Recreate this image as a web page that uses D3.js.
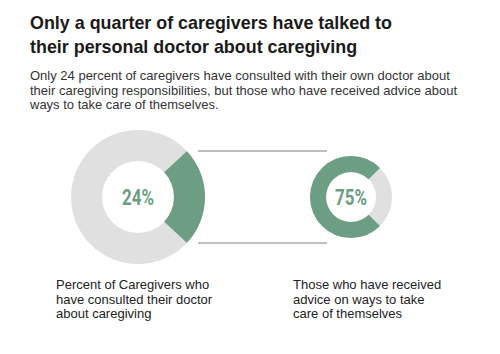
<!DOCTYPE html>
<html>
<head>
  <meta charset="utf-8">
  <style>
    html, body { margin: 0; padding: 0; background: #fff; }
    svg { display: block; font-family: "Liberation Sans", Arial, sans-serif; }
  </style>
</head>
<body>
  <svg id="chart" width="500" height="354"></svg>

  <script src="https://d3js.org/d3.v7.min.js"></script>
  <script>
    // data
    const titleLines = ["Only a quarter of caregivers have talked to",
                        "their personal doctor about caregiving"];
    const subtitleLines = ["Only 24 percent of caregivers have consulted with their own doctor about",
                           "their caregiving responsibilities, but those who have received advice about",
                           "ways to take care of themselves."];
    const metricNames = ["consulted", "advice"];
    const metricValues = [24, 75];
    const metricLabels = [
      ["Percent of Caregivers who", "have consulted their doctor", "about caregiving"],
      ["Those who have received", "advice on ways to take", "care of themselves"]
    ];

    const green = "#6b9e82";
    const grey = "#e0e0e0";

    const svg = d3.select("#chart");

    // title
    svg.append("g").selectAll("text")
      .data(titleLines)
      .join("text")
      .attr("x", 30)
      .attr("y", (d, i) => 29 + i * 24)
      .attr("font-size", 17.9)
      .attr("font-weight", "bold")
      .attr("fill", "#1a1a1a")
      .text(d => d);

    // subtitle
    svg.append("g").selectAll("text")
      .data(subtitleLines)
      .join("text")
      .attr("x", 30)
      .attr("y", (d, i) => 80 + i * 14.5)
      .attr("font-size", 13)
      .attr("fill", "#333")
      .text(d => d);

    // donut layout: position and size per metric
    const x = d3.scalePoint().domain(metricNames).range([138, 351]);
    const outerR = d3.scaleOrdinal().domain(metricNames).range([67, 41]);
    const innerR = d3.scaleOrdinal().domain(metricNames).range([36, 25]);
    const cy = 197;

    // connector lines between the two donuts
    const rows = [cy - 46, cy + 46];
    svg.append("g").selectAll("line")
      .data(rows)
      .join("line")
      .attr("x1", 198)
      .attr("x2", 327)
      .attr("y1", d => d)
      .attr("y2", d => d)
      .attr("stroke", "#aaa")
      .attr("stroke-width", 1.5);

    const toRad = d3.scaleLinear().domain([0, 100]).range([0, 2 * Math.PI]);

    metricNames.forEach((name, i) => {
      const v = metricValues[i];
      const g = svg.append("g").attr("transform", `translate(${x(name)},${cy})`);
      const arc = d3.arc().innerRadius(innerR(name)).outerRadius(outerR(name));

      g.append("path")
        .attr("d", arc({ startAngle: 0, endAngle: 2 * Math.PI }))
        .attr("fill", grey);

      // value arc: small share sits on the right, large share wraps round the left
      let start, end;
      if (v < 50) {
        start = Math.PI / 2 - toRad(v) / 2;
        end = Math.PI / 2 + toRad(v) / 2;
      } else {
        start = Math.PI / 2 + toRad(100 - v) / 2;
        end = start + toRad(v);
      }
      g.append("path")
        .attr("d", arc({ startAngle: start, endAngle: end }))
        .attr("fill", green);

      g.append("text")
        .attr("text-anchor", "middle")
        .attr("y", 8)
        .attr("font-family", "Roboto, 'DejaVu Sans Condensed', sans-serif")
        .attr("font-weight", "bold")
        .attr("font-size", 22)
        .attr("textLength", 32)
        .attr("lengthAdjust", "spacingAndGlyphs")
        .attr("fill", green)
        .text(v + "%");
    });

    // bottom labels
    const labelX = d3.scaleOrdinal().domain(metricNames).range([56, 293]);
    metricNames.forEach((name, i) => {
      svg.append("g").selectAll("text")
        .data(metricLabels[i])
        .join("text")
        .attr("x", labelX(name))
        .attr("y", (d, j) => 289 + j * 14.5)
        .attr("font-size", 13)
        .attr("fill", "#222")
        .text(d => d);
    });
  </script>
</body>
</html>
